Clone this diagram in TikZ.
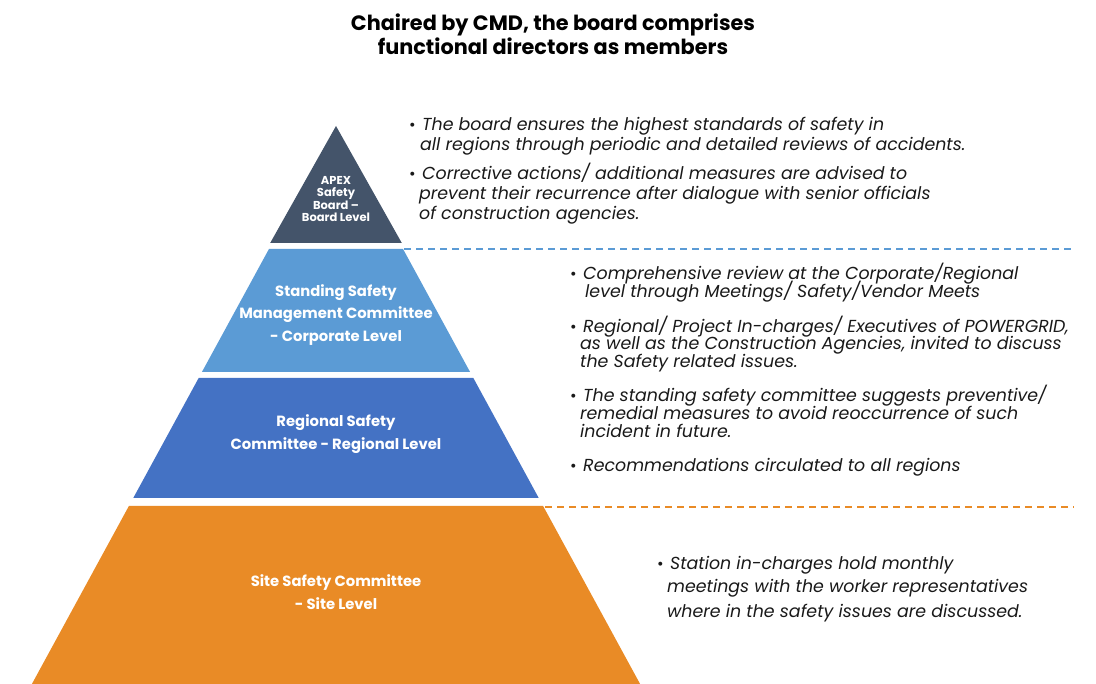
\documentclass[tikz,border=0pt]{standalone}
\usepackage{fontspec}
\setmainfont{Poppins}
\begin{document}
\begin{tikzpicture}[x=1pt,y=-1pt,
  lvl/.style={text=white,font=\bfseries\fontsize{14.8}{22.5}\selectfont,align=center},
  apx/.style={text=white,font=\bfseries\fontsize{11.5}{12.5}\selectfont,align=center},
  txt/.style={anchor=base west,inner sep=0pt,font=\itshape\fontsize{17.4}{18}\selectfont,text=black!90},
  blt/.style={anchor=base west,inner sep=0pt,font=\fontsize{16}{18}\selectfont,text=black!90},
  sep/.style={dashed,dash pattern=on 7pt off 5pt,line width=1.6pt}]
\definecolor{apexc}{HTML}{44546A}
\definecolor{lblue}{HTML}{5B9BD5}
\definecolor{mblue}{HTML}{4472C4}
\definecolor{orng}{HTML}{E98B26}
\useasboundingbox (0,0) rectangle (1096,684);
% pyramid: apex (336,126), slope 0.545
\fill[apexc] (336,126) -- (401.8,243) -- (270.2,243) -- cycle;
\fill[lblue] (336-0.545*123,249) -- (336+0.545*123,249) -- (336+0.545*246,372) -- (336-0.545*246,372) -- cycle;
\fill[mblue] (336-0.545*252,378) -- (336+0.545*252,378) -- (336+0.545*372,498) -- (336-0.545*372,498) -- cycle;
\fill[orng] (336-0.545*380,506) -- (336+0.545*380,506) -- (336+0.545*558,684) -- (336-0.545*558,684) -- cycle;
\coordinate (d1a) at (404,249); \coordinate (d1b) at (1074,249);
\coordinate (d2a) at (545,507); \coordinate (d2b) at (1074,507);
\draw[sep,lblue] (d1a) -- (d1b);
\draw[sep,orng] (d2a) -- (d2b);
% title
\node[font=\bfseries\fontsize{20.8}{24}\selectfont,align=center] (title) at (553,34) {Chaired by CMD, the board comprises\\functional directors as members};
% pyramid labels
\node[apx] (apex) at (336,199) {APEX\\Safety\\Board --\\Board Level};
\node[lvl] (stand) at (336,315) {Standing Safety\\Management Committee\\- Corporate Level};
\node[lvl] (reg) at (336,434) {Regional Safety\\Committee - Regional Level};
\node[lvl] (site) at (336,592) {Site Safety Committee\\- Site Level};
% block 1
\node[blt] (b1) at (409,131) {•};
\node[txt] (t1a) at (422,131) {The board ensures the highest standards of safety in};
\node[txt] (t1b) at (420,151) {all regions through periodic and detailed reviews of accidents.};
\node[blt] (b2) at (409,180) {•};
\node[txt] (t2a) at (422,180) {Corrective actions/ additional measures are advised to};
\node[txt] (t2b) at (419,200) {prevent their recurrence after dialogue with senior officials};
\node[txt] (t2c) at (419,220) {of construction agencies.};
% block 2
\node[blt] (b3) at (570,280) {•};
\node[txt] (t3a) at (583,280) {Comprehensive review at the Corporate/Regional};
\node[txt] (t3b) at (585,298) {level through Meetings/ Safety/Vendor Meets};
\node[blt] (b4) at (570,333) {•};
\node[txt] (t4a) at (583,333) {Regional/ Project In-charges/ Executives of POWERGRID,};
\node[txt] (t4b) at (580,350) {as well as the Construction Agencies, invited to discuss};
\node[txt] (t4c) at (580,368) {the Safety related issues.};
\node[blt] (b5) at (570,402) {•};
\node[txt] (t5a) at (583,402) {The standing safety committee suggests preventive/};
\node[txt] (t5b) at (580,420) {remedial measures to avoid reoccurrence of such};
\node[txt] (t5c) at (580,438) {incident in future.};
\node[blt] (b6) at (570,472) {•};
\node[txt] (t6a) at (583,472) {Recommendations circulated to all regions};
% block 3
\node[blt] (b7) at (657,569) {•};
\node[txt] (t7a) at (670,569) {Station in-charges hold monthly};
\node[txt] (t7b) at (667,593) {meetings with the worker representatives};
\node[txt] (t7c) at (667,617) {where in the safety issues are discussed.};
\end{tikzpicture}
\end{document}
